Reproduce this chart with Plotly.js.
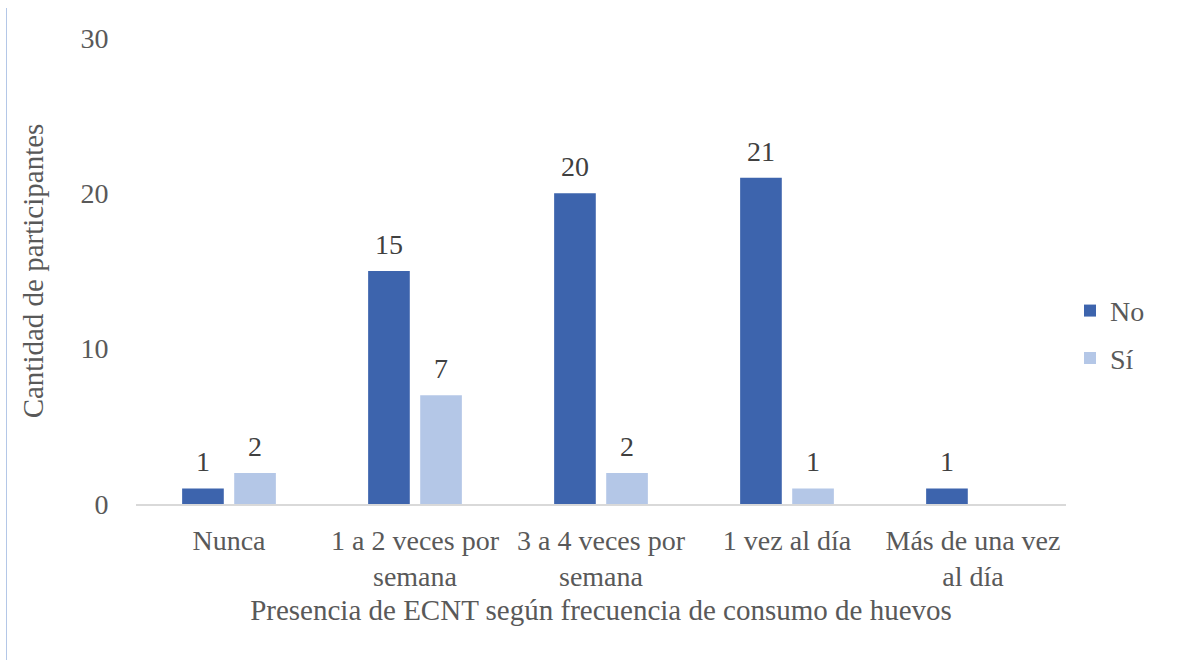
<!DOCTYPE html>
<html>
<head>
<meta charset="utf-8">
<script src="https://cdn.plot.ly/plotly-3.0.1.min.js"></script>
<style>
  html, body { margin: 0; padding: 0; background: #ffffff; }
  #frame { position: absolute; left: 6px; top: 8px; width: 0; height: 652px; border-left: 1.5px solid #b4c7e7; }
  #chart { width: 1186px; height: 660px; }
</style>
</head>
<body>
<div id="frame"></div>
<div id="chart"></div>
<script>
const categories = ["Nunca", "1 a 2 veces por<br>semana", "3 a 4 veces por<br>semana", "1 vez al día", "Más de una vez<br>al día"];
const seriesNo = [1, 15, 20, 21, 1];
const seriesSi = [2, 7, 2, 1, null];
const yTicks = [0, 10, 20, 30];

const FONT = "Liberation Serif";
const SIZE = 28;
const TITLE_SIZE = 29;
const labelFont = { family: FONT, size: SIZE, color: "#404040" };

const traces = [
  {
    type: "bar", name: "No", x: categories, y: seriesNo,
    marker: { color: "#3d64ad" },
    legendgroup: "a", hoverinfo: "x+y+name"
  },
  {
    type: "bar", name: "Sí", x: categories, y: seriesSi,
    marker: { color: "#b4c7e7" },
    legendgroup: "b", hoverinfo: "x+y+name"
  }
];

// data labels via annotations, placed by the axis scales
const annotations = [];
seriesNo.forEach((v, i) => {
  if (v != null) annotations.push({ x: categories[i], y: v, xshift: -26, yshift: 9, text: String(v), showarrow: false, yanchor: "bottom", font: labelFont });
});
seriesSi.forEach((v, i) => {
  if (v != null) annotations.push({ x: categories[i], y: v, xshift: 26, yshift: 9, text: String(v), showarrow: false, yanchor: "bottom", font: labelFont });
});

const layout = {
  width: 1186, height: 660,
  paper_bgcolor: "rgba(0,0,0,0)", plot_bgcolor: "#ffffff",
  margin: { l: 136, r: 120, t: 38, b: 156 },
  font: { family: FONT, size: SIZE, color: "#595959" },
  barmode: "group", bargap: 0.44, bargroupgap: 0.2,
  showlegend: true,
  legend: {
    x: 1.0043, xanchor: "left", y: 0.364, yanchor: "middle",
    font: { family: FONT, size: SIZE, color: "#595959" },
    traceorder: "grouped", tracegroupgap: 8,
    bgcolor: "rgba(0,0,0,0)"
  },
  annotations: annotations,
  xaxis: {
    type: "category",
    showline: true, linecolor: "#d9d9d9", linewidth: 2,
    showgrid: false, zeroline: false,
    ticks: "outside", ticklen: 10, tickcolor: "rgba(0,0,0,0)",
    tickfont: { family: FONT, size: SIZE, color: "#595959" },
    title: { text: "Presencia de ECNT según frecuencia de consumo de huevos", font: { family: FONT, size: TITLE_SIZE, color: "#595959" }, standoff: 9 }
  },
  yaxis: {
    range: [0, 30], tickvals: yTicks, ticktext: yTicks.map(String),
    showgrid: false, zeroline: false, showline: false,
    ticks: "outside", ticklen: 21, tickcolor: "rgba(0,0,0,0)",
    tickfont: { family: FONT, size: SIZE, color: "#595959" },
    title: { text: "Cantidad de participantes", font: { family: FONT, size: TITLE_SIZE, color: "#595959" }, standoff: 28 }
  }
};

Plotly.newPlot("chart", traces, layout, { displayModeBar: false, responsive: false });
</script>
</body>
</html>
